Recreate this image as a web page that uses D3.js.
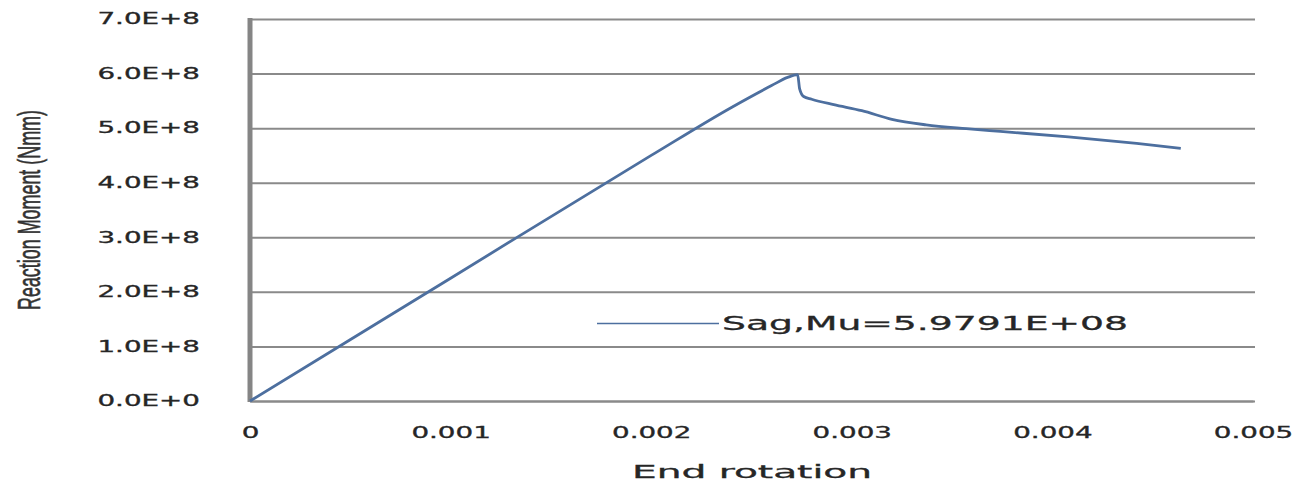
<!DOCTYPE html>
<html lang="en">
<head>
    <meta charset="UTF-8">
    <script src="https://cdn.jsdelivr.net/npm/d3@7"></script>
    <style>
        body { margin: 0; background: #fff; }
        text { font-family: "DejaVu Sans", Verdana, sans-serif; fill: #262626; }
    </style>
</head>
<body>
<div id="fig"></div>
<script>
    const width = 1305, height = 484;

    // end rotation vs reaction moment
    const rotation = [0, 0.001, 0.002, 0.0024, 0.0026, 0.00268, 0.00273,
        0.00274, 0.00276, 0.0028, 0.00291, 0.00305, 0.0032, 0.00337, 0.00357, 0.00374,
        0.00408, 0.00442, 0.00464];
    const moment = [0, 2.25e8, 4.5e8, 5.38e8, 5.78e8, 5.93e8, 5.979e8,
        5.72e8, 5.58e8, 5.53e8, 5.43e8, 5.32e8, 5.16e8, 5.06e8, 4.99e8, 4.94e8,
        4.84e8, 4.72e8, 4.63e8];

    const xTicks = [0, 0.001, 0.002, 0.003, 0.004, 0.005];
    const yTicks = [0, 1e8, 2e8, 3e8, 4e8, 5e8, 6e8, 7e8];
    const seriesName = "Sag,Mu=5.9791E+08";
    const xTitle = "End rotation";
    const yTitle = "Reaction Moment (Nmm)";

    const margin = {top: 19, right: 52, bottom: 83, left: 250};
    const lineColor = "#4d6f9f";
    const stretch = 1.85;

    const svg = d3.select("#fig").append("svg")
        .attr("width", width)
        .attr("height", height);

    const x = d3.scaleLinear().domain([0, 0.005]).range([margin.left, width - margin.right]);
    const y = d3.scaleLinear().domain([0, 7e8]).range([height - margin.bottom, margin.top]);

    // stretch tick text sideways, the picture is wide
    function widen(sel) {
        sel.each(function () {
            const t = d3.select(this);
            const x0 = +t.attr("x") || 0;
            t.attr("x", x0 / stretch).attr("transform", `scale(${stretch},1)`);
        });
    }

    // gridlines + y labels
    const yAxis = svg.append("g")
        .attr("transform", `translate(${margin.left},0)`)
        .call(d3.axisLeft(y)
            .tickValues(yTicks)
            .tickSize(-(width - margin.right - margin.left + 2))
            .tickPadding(50)
            .tickFormat(d => d === 0 ? "0.0E+0" : (d / 1e8).toFixed(1) + "E+8"));
    yAxis.select(".domain").remove();
    yAxis.selectAll(".tick line")
        .attr("stroke", "#8a8a8a")
        .attr("stroke-width", 2);
    yAxis.selectAll(".tick text")
        .style("font-size", "15px")
        .style("stroke", "#262626")
        .style("stroke-width", 0.3)
        .call(widen);

    // x labels
    const xAxis = svg.append("g")
        .attr("transform", `translate(0,${height - margin.bottom})`)
        .call(d3.axisBottom(x)
            .tickValues(xTicks)
            .tickSize(0)
            .tickPadding(26)
            .tickFormat(d => d === 0 ? "0" : d3.format(".3f")(d)));
    xAxis.select(".domain")
        .attr("stroke", "#8a8a8a")
        .attr("stroke-width", 2);
    xAxis.selectAll(".tick text")
        .style("font-size", "15px")
        .style("stroke", "#262626")
        .style("stroke-width", 0.3)
        .call(widen);

    // thick y axis line
    svg.append("line")
        .attr("x1", x(0)).attr("x2", x(0))
        .attr("y1", y(7e8) - 1).attr("y2", y(0) + 1)
        .attr("stroke", "#858585")
        .attr("stroke-width", 5);

    const line = d3.line()
        .x((d, i) => x(rotation[i]))
        .y(d => y(d))
        .curve(d3.curveMonotoneX);

    svg.append("path")
        .datum(moment)
        .attr("d", line)
        .attr("fill", "none")
        .attr("stroke", lineColor)
        .attr("stroke-width", 2.8)
        .attr("stroke-linejoin", "round");

    // legend
    svg.append("line")
        .attr("x1", 597).attr("x2", 719)
        .attr("y1", 323.5).attr("y2", 323.5)
        .attr("stroke", lineColor)
        .attr("stroke-width", 1.6);
    svg.append("text")
        .attr("x", 722).attr("y", 330)
        .style("font-size", "19px")
        .style("stroke", "#262626")
        .style("stroke-width", 0.3)
        .attr("textLength", 406)
        .attr("lengthAdjust", "spacingAndGlyphs")
        .text(seriesName);

    // titles
    svg.append("text")
        .attr("x", 632).attr("y", 478)
        .style("font-size", "18px")
        .style("stroke", "#262626")
        .style("stroke-width", 0.3)
        .attr("textLength", 240)
        .attr("lengthAdjust", "spacingAndGlyphs")
        .text(xTitle);

    svg.append("text")
        .attr("transform", "translate(40,210) rotate(-90)")
        .attr("text-anchor", "middle")
        .style("font-family", "'Liberation Sans', Arial, sans-serif")
        .style("font-size", "31px")
        .style("fill", "#333")
        .style("stroke", "#333")
        .style("stroke-width", 0.6)
        .attr("textLength", 200)
        .attr("lengthAdjust", "spacingAndGlyphs")
        .text(yTitle);
</script>
</body>
</html>
